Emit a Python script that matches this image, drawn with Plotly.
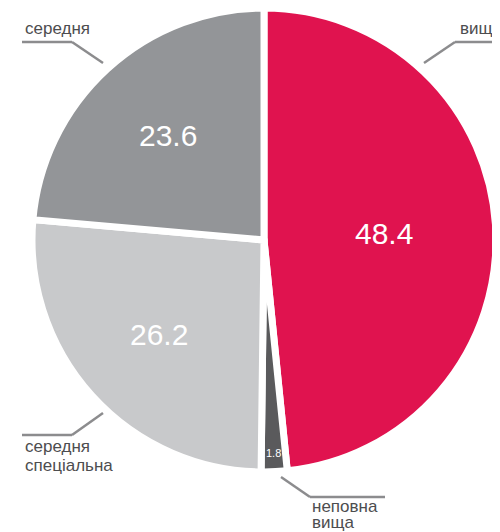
import math
import plotly.graph_objects as go

labels = ["вища", "неповна вища", "середня спеціальна", "середня"]
values = [48.4, 1.8, 26.2, 23.6]
colors = ["#E0134F", "#5A5A5C", "#C8C9CB", "#939598"]
value_sizes = [30, 11, 30, 30]
value_radius = [0.52, 0.92, 0.61, 0.61]

W, H = 500, 532
OFF = 8  # page offset of the plot canvas
def px(x): return (x - OFF) / W
def py(y): return 1 - (y - OFF) / H

# pie geometry in page pixels
CX, CY, R = 264, 240, 232

fig = go.Figure(go.Pie(
    labels=labels, values=values, sort=False, direction="clockwise", rotation=0,
    marker=dict(colors=colors, line=dict(color="white", width=7)),
    textinfo="none",
    domain=dict(x=[px(CX - R), px(CX + R)], y=[py(CY + R), py(CY - R)]),
    showlegend=False, hoverinfo="label+value",
))

# value labels placed at each slice's mid-angle
total = sum(values)
cum = 0
for v, s, rf in zip(values, value_sizes, value_radius):
    mid = (cum + v / 2) / total * 2 * math.pi
    cum += v
    x = CX + rf * R * math.sin(mid)
    y = CY - rf * R * math.cos(mid)
    fig.add_annotation(text=f"{v:.1f}", x=px(x), y=py(y), xref="paper", yref="paper",
                       xanchor="center", yanchor="middle", showarrow=False,
                       font=dict(family="Liberation Sans, Arial, sans-serif", size=s, color="white"))

lab_font = dict(family="Liberation Sans, Arial, sans-serif", size=17, color="#4D4D4F")
ann = [
    ("середня", 23, 28),
    ("вища", 458, 28),
    ("середня", 23, 446),
    ("спеціальна", 23, 465),
    ("неповна", 310, 506),
    ("вища", 310, 522),
]
for t, x, y in ann:
    fig.add_annotation(text=t, x=px(x), y=py(y), xref="paper", yref="paper",
                       xanchor="left", yanchor="middle", showarrow=False, font=lab_font)

leaders = [
    [(22, 42), (72, 42), (103, 63)],
    [(505, 42), (455, 42), (424, 63)],
    [(22, 435), (72, 435), (103, 413)],
    [(385, 497), (310, 497), (281, 477)],
]
for pts in leaders:
    for (x0, y0), (x1, y1) in zip(pts[:-1], pts[1:]):
        fig.add_shape(type="line", xref="paper", yref="paper",
                      x0=px(x0), y0=py(y0), x1=px(x1), y1=py(y1),
                      line=dict(color="#8C8C8E", width=2.5))

fig.update_layout(width=W, height=H, margin=dict(l=0, r=0, t=0, b=0),
                  paper_bgcolor="white", plot_bgcolor="white")
fig.write_html("out.html")
